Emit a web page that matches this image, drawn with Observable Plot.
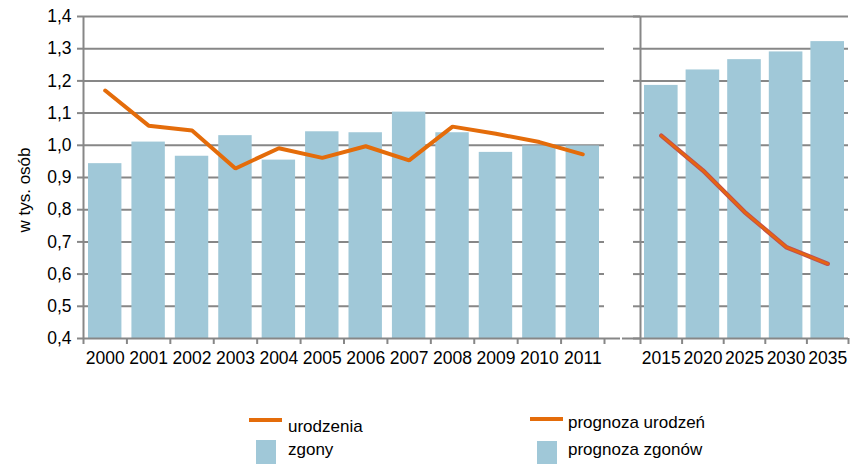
<!DOCTYPE html>
<html><head><meta charset="utf-8">
<script src="https://cdn.jsdelivr.net/npm/d3@7"></script>
<script src="https://cdn.jsdelivr.net/npm/@observablehq/plot@0.6"></script>
<style>
body{margin:0;background:#fff;font-family:"Liberation Sans",Arial,sans-serif;}
#wrap{position:relative;width:850px;height:464px;overflow:hidden;}
#left,#right{position:absolute;top:0;}
#left{left:0px;}
#right{left:620px;}
.leg{position:absolute;font-size:17px;line-height:20px;color:#000;white-space:nowrap;}
.ln{position:absolute;height:4px;width:33px;background:#E46C0A;}
.sw{position:absolute;width:20px;height:24px;background:#A0C8D8;}
#ylab{position:absolute;left:25px;top:190px;font-size:17px;line-height:20px;white-space:nowrap;transform:translate(-50%,-50%) rotate(-90deg);}
</style></head><body>
<div id="wrap">
  <div id="left"></div>
  <div id="right"></div>
  <div id="ylab">w tys. osób</div>
  <div class="ln" style="left:249px;top:418px;"></div>
  <div class="leg" style="left:288px;top:417px;">urodzenia</div>
  <div class="sw" style="left:256px;top:440px;"></div>
  <div class="leg" style="left:288px;top:440px;">zgony</div>
  <div class="ln" style="left:530px;top:417px;"></div>
  <div class="leg" style="left:568px;top:413px;">prognoza urodzeń</div>
  <div class="sw" style="left:537px;top:441px;"></div>
  <div class="leg" style="left:568px;top:440px;">prognoza zgonów</div>
</div>
<script>
const yearsHist = ["2000","2001","2002","2003","2004","2005","2006","2007","2008","2009","2010","2011"];
const zgony = [0.943, 1.010, 0.966, 1.030, 0.954, 1.042, 1.039, 1.103, 1.039, 0.978, 0.998, 0.998];
const urodzenia = [1.170, 1.061, 1.046, 0.928, 0.991, 0.961, 0.997, 0.953, 1.058, 1.036, 1.010, 0.972];
const yearsProg = ["2015","2020","2025","2030","2035"];
const prognozaZgonow = [1.186, 1.234, 1.266, 1.290, 1.322];
const prognozaUrodzen = [1.030, 0.922, 0.793, 0.684, 0.632];
const yTicks = [0.4, 0.5, 0.6, 0.7, 0.8, 0.9, 1.0, 1.1, 1.2, 1.3, 1.4];

const GRID = "#878787";
const BAR = "#A0C8D8";
const ORANGE = "#E46C0A";
const FS = 17.5;
const fmt = d => d.toFixed(1).replace(".", ",");

const hist = yearsHist.map((year, i) => ({year, i, zgony: zgony[i], urodzenia: urodzenia[i]}));
const prog = yearsProg.map((year, i) => ({year, i, zgony: prognozaZgonow[i], urodzenia: prognozaUrodzen[i]}));

const common = {
  height: 380,
  marginTop: 16,
  marginBottom: 42,
  y: {domain: [0.4, 1.4]},
  style: {fontFamily: "'Liberation Sans', Arial, sans-serif", fontSize: FS + "px", color: "#000", background: "transparent", overflow: "visible"}
};

const left = Plot.plot({
  ...common,
  width: 620,
  marginLeft: 83,
  marginRight: 16,
  x: {domain: [0, yearsHist.length]},
  marks: [
    Plot.ruleY(yTicks.filter(d => d > 0.4 && d < 1.4), {y: d => d, stroke: GRID, strokeWidth: 2}),
    Plot.ruleY([1.4], {stroke: GRID, strokeWidth: 2, insetRight: -16}),
    Plot.rectY(hist, {x1: "i", x2: d => d.i + 1, y1: 0.4, y2: "zgony", fill: BAR, insetLeft: 5, insetRight: 5}),
    Plot.lineY(hist, {x: d => d.i + 0.5, y: "urodzenia", stroke: ORANGE, strokeWidth: 4, strokeLinejoin: "miter"}),
    Plot.ruleY([0.4], {stroke: GRID, strokeWidth: 2, insetRight: -16}),
    Plot.ruleX([0], {stroke: GRID, strokeWidth: 2}),
    Plot.axisY(yTicks, {tickFormat: fmt, tickSize: 6, tickPadding: 6, stroke: GRID, strokeWidth: 2, fontSize: FS, label: null}),
    Plot.axisX(d3.range(0, yearsHist.length + 1), {tickFormat: () => "", tickSize: 6, stroke: GRID, strokeWidth: 2, label: null}),
    Plot.text(hist, {x: d => d.i + 0.5, frameAnchor: "bottom", text: "year", dy: 25, fontSize: FS})
  ]
});

const right = Plot.plot({
  ...common,
  width: 230,
  marginLeft: 20,
  marginRight: 2,
  x: {domain: [0, yearsProg.length]},
  marks: [
    Plot.ruleY(yTicks.filter(d => d > 0.4 && d < 1.4), {y: d => d, stroke: GRID, strokeWidth: 2}),
    Plot.ruleY([1.4], {stroke: GRID, strokeWidth: 2, insetLeft: -20}),
    Plot.rectY(prog, {x1: "i", x2: d => d.i + 1, y1: 0.4, y2: "zgony", fill: BAR, insetLeft: 4, insetRight: 4}),
    Plot.lineY(prog, {x: d => d.i + 0.5, y: "urodzenia", stroke: "#C0504D", strokeWidth: 4.5, strokeLinecap: "round"}),
    Plot.lineY(prog, {x: d => d.i + 0.5, y: "urodzenia", stroke: "#E8650F", strokeWidth: 2.5, strokeLinecap: "round"}),
    Plot.ruleY([0.4], {stroke: GRID, strokeWidth: 2, insetLeft: -18}),
    Plot.ruleX([0], {stroke: GRID, strokeWidth: 2}),
    Plot.axisY(yTicks, {tickFormat: () => "", tickSize: 7, stroke: GRID, strokeWidth: 2, label: null}),
    Plot.axisX(d3.range(0, yearsProg.length + 1), {tickFormat: () => "", tickSize: 6, stroke: GRID, strokeWidth: 2, label: null}),
    Plot.text(prog, {x: d => d.i + 0.5, frameAnchor: "bottom", text: "year", dy: 25, fontSize: FS})
  ]
});

document.getElementById("left").appendChild(left);
document.getElementById("right").appendChild(right);
</script>
</body></html>
